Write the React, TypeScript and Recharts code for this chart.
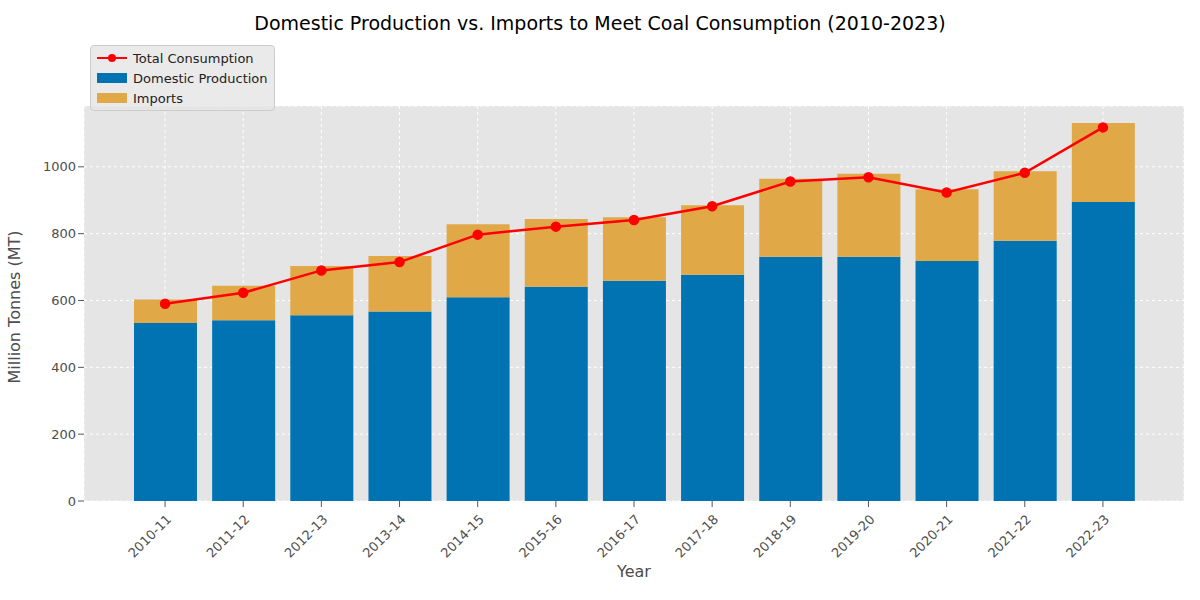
import { Bar, CartesianGrid, ComposedChart, Legend, Line, XAxis, YAxis } from "recharts";

const years = ["2010-11", "2011-12", "2012-13", "2013-14", "2014-15", "2015-16", "2016-17", "2017-18", "2018-19", "2019-20", "2020-21", "2021-22", "2022-23"];
const domestic = [533, 541, 556, 567, 610, 641, 659, 677, 731, 731, 718, 779, 895];
const imports = [70, 103, 147, 166, 218, 203, 190, 208, 233, 248, 215, 208, 236];
const consumption = [590, 623, 690, 715, 797, 821, 841, 882, 956, 969, 923, 982, 1118];

const data = years.map((y, i) => ({ year: y, domestic: domestic[i], imports: imports[i], consumption: consumption[i] }));

const font = "DejaVu Sans, sans-serif";

function LegendBox() {
  const items = [
    { label: "Total Consumption", kind: "line", color: "#ff0000" },
    { label: "Domestic Production", kind: "bar", color: "#0173b2" },
    { label: "Imports", kind: "bar", color: "#e1a848" },
  ];
  return (
    <div style={{ background: "rgba(229,229,229,0.8)", border: "1px solid #cccccc", borderRadius: 4, padding: "2px 6px", fontFamily: font, fontSize: 13, color: "#222" }}>
      {items.map((it) => (
        <div key={it.label} style={{ display: "flex", alignItems: "center", height: 20 }}>
          <svg width={30} height={12} style={{ marginRight: 6 }}>
            {it.kind === "line" ? (
              <>
                <line x1={0} y1={6} x2={30} y2={6} stroke={it.color} strokeWidth={2} />
                <circle cx={15} cy={6} r={4} fill={it.color} />
              </>
            ) : (
              <rect x={0} y={1} width={30} height={10} fill={it.color} />
            )}
          </svg>
          {it.label}
        </div>
      ))}
    </div>
  );
}

export default function App() {
  return (
    <div style={{ position: "absolute", left: 0, top: 0, width: 1200, height: 600, background: "#fff", fontFamily: font }}>
      <div style={{ position: "absolute", top: 12, width: 1200, textAlign: "center", fontSize: 19, color: "#000" }}>
        Domestic Production vs. Imports to Meet Coal Consumption (2010-2023)
      </div>
      <ComposedChart width={1200} height={600} data={data} margin={{ top: 40, right: 16, left: 8, bottom: 29 }}>
        <CartesianGrid stroke="#ffffff" strokeDasharray="3 3" fill="#e5e5e5" />
        <XAxis dataKey="year" padding={{ left: 42, right: 42 }} height={70} interval={0} tickLine={{ stroke: "#555" }} axisLine={false}
          tick={(p: any) => (
            <text x={p.x} y={p.y + 4} transform={`rotate(-45 ${p.x} ${p.y + 4})`} textAnchor="end" dy={10} fontSize={13} fill="#4d4d4d" fontFamily={font}>{p.payload.value}</text>
          )}
          label={{ value: "Year", position: "insideBottom", offset: -6, fontSize: 16, fill: "#4d4d4d", fontFamily: font }} />
        <YAxis width={76} type="number" domain={[0, 1182]} allowDataOverflow ticks={[0, 200, 400, 600, 800, 1000]} axisLine={false} tickLine={{ stroke: "#555" }}
          tick={{ fontSize: 13, fill: "#4d4d4d", fontFamily: font }}
          label={{ value: "Million Tonnes (MT)", angle: -90, position: "insideLeft", offset: 6, dy: 80, fontSize: 16, fill: "#4d4d4d", fontFamily: font }} />
        <Legend verticalAlign="top" align="left" wrapperStyle={{ left: 90, top: 45, width: "auto" }} content={() => <LegendBox />} />
        <Bar dataKey="domestic" stackId="a" fill="#0173b2" barSize={63} isAnimationActive={false} />
        <Bar dataKey="imports" stackId="a" fill="#e1a848" barSize={63} isAnimationActive={false} />
        <Line dataKey="consumption" stroke="#ff0000" strokeWidth={2.5} dot={{ r: 4, fill: "#ff0000", stroke: "#ff0000" }} isAnimationActive={false} />
      </ComposedChart>
    </div>
  );
}
